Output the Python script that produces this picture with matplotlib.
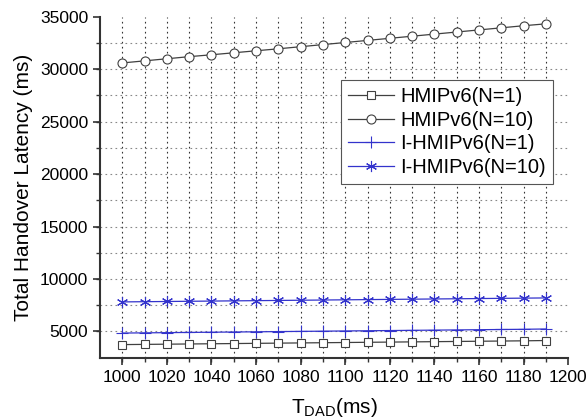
import numpy as np
import matplotlib
matplotlib.use("Agg")
import matplotlib.pyplot as plt
from matplotlib.ticker import MultipleLocator, FixedLocator

plt.rcParams['font.family'] = ['Liberation Sans', 'DejaVu Sans']

t_dad = [1000, 1010, 1020, 1030, 1040, 1050, 1060, 1070, 1080, 1090,
         1100, 1110, 1120, 1130, 1140, 1150, 1160, 1170, 1180, 1190]
hmip_n1 = [3750, 3770, 3790, 3810, 3830, 3850, 3870, 3890, 3910, 3930,
           3950, 3970, 3990, 4010, 4030, 4050, 4070, 4090, 4110, 4140]
hmip_n10 = [30600, 30800, 31000, 31200, 31380, 31570, 31760, 31950, 32150, 32350,
            32550, 32750, 32950, 33150, 33350, 33550, 33750, 33950, 34150, 34330]
ihmip_n1 = [4850, 4870, 4890, 4910, 4930, 4950, 4970, 4990, 5010, 5030,
            5050, 5070, 5090, 5110, 5130, 5150, 5170, 5190, 5210, 5240]
ihmip_n10 = [7820, 7840, 7860, 7880, 7900, 7920, 7940, 7960, 7980, 8000,
             8020, 8040, 8060, 8080, 8100, 8120, 8140, 8160, 8180, 8200]
labels = ['HMIPv6(N=1)', 'HMIPv6(N=10)', 'I-HMIPv6(N=1)', 'I-HMIPv6(N=10)']

fig = plt.figure(figsize=(5.88, 4.2), dpi=100)
ax = fig.add_axes([0.170, 0.1483, 0.9665 - 0.170, 0.960 - 0.1483])

gray = '#404040'
blue = '#3333cc'
ax.plot(t_dad, hmip_n1, color=gray, lw=0.9, marker='s', ms=5.5, mfc='white',
        mec=gray, mew=0.8, label=labels[0], zorder=3)
ax.plot(t_dad, hmip_n10, color=gray, lw=0.9, marker='o', ms=6.5, mfc='white',
        mec=gray, mew=0.8, label=labels[1], zorder=3)
ax.plot(t_dad, ihmip_n1, color=blue, lw=0.9, marker='+', ms=8.5, mec=blue,
        mew=0.8, label=labels[2], zorder=3)
ax.plot(t_dad, ihmip_n10, color=blue, lw=0.9, marker=(6, 2, 0), ms=8, mec=blue,
        mew=0.8, label=labels[3], zorder=3)

ax.set_xlim(990, 1200)
ax.set_ylim(2500, 35000)
ax.xaxis.set_major_locator(MultipleLocator(20))
ax.yaxis.set_major_locator(MultipleLocator(5000))
ax.xaxis.remove_overlapping_locs = False
ax.yaxis.remove_overlapping_locs = False
ax.xaxis.set_minor_locator(FixedLocator(np.arange(1000, 1191, 10)))
ax.yaxis.set_minor_locator(FixedLocator(np.arange(5000, 32501, 2500)))
ax.grid(which='minor', axis='x', linestyle=(0, (1.5, 3)), color='#333333', lw=0.8)
ax.grid(which='minor', axis='y', linestyle=(0, (1.5, 3)), color='#888888', lw=0.8)
ax.grid(which='major', visible=False)

for s in ['top', 'right']:
    ax.spines[s].set_visible(False)
for s in ['left', 'bottom']:
    ax.spines[s].set_linewidth(1.5)
    ax.spines[s].set_color('#333333')

ax.tick_params(which='major', direction='out', length=5, width=1.2, labelsize=12.5,
               color='#333333')
ax.tick_params(which='minor', direction='out', length=3, width=1.0, color='#333333')

ax.set_ylabel('Total Handover Latency (ms)', fontsize=15, labelpad=5)
ax.set_xlabel(r'T$_{\mathregular{DAD}}$(ms)', fontsize=15, labelpad=8)

leg = ax.legend(loc='upper right', bbox_to_anchor=(0.967, 0.814), borderaxespad=0,
                fontsize=14.5, fancybox=False, edgecolor='#555555', framealpha=1,
                handlelength=2.3, borderpad=0.35, labelspacing=0.22, handletextpad=0.3)
leg.get_frame().set_linewidth(0.8)

fig.savefig('out.png', dpi=100)
